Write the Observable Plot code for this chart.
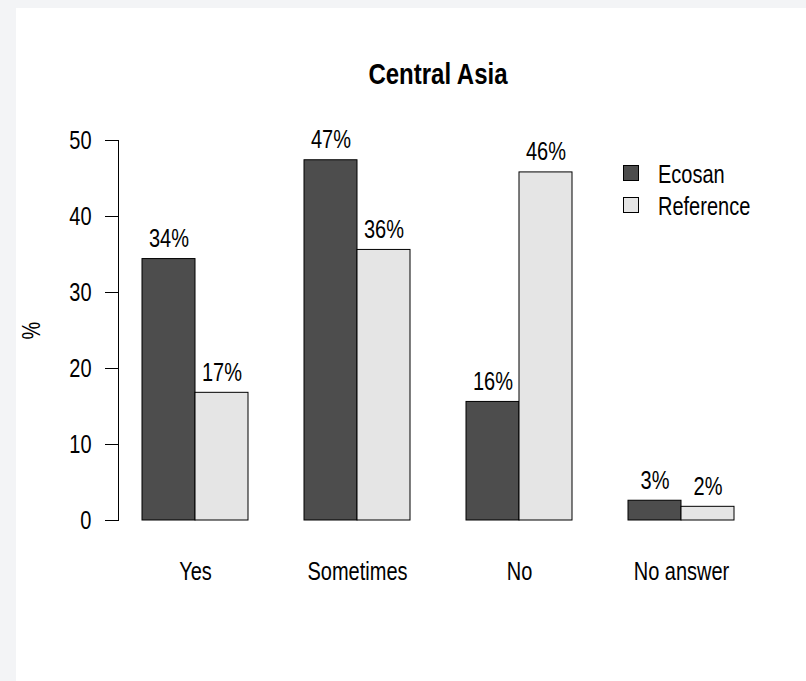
<!DOCTYPE html>
<html><head><meta charset="utf-8">
<script src="https://cdn.jsdelivr.net/npm/d3@7"></script>
<script src="https://cdn.jsdelivr.net/npm/@observablehq/plot@0.6"></script>
<style>
html,body{margin:0;padding:0;background:#f3f4f6;width:806px;height:681px;overflow:hidden;}
#panel{position:absolute;left:16px;top:8px;width:790px;height:673px;background:#fff;
  font-family:"Liberation Sans",Arial,Helvetica,sans-serif;color:#000;}
#title{position:absolute;left:27px;top:0;width:790px;text-align:center;font-weight:bold;font-size:30px;height:132px;line-height:132px;}
#title span{display:inline-block;transform:scaleX(0.8);transform-origin:center;}
#chart{position:absolute;left:0;top:100px;}
#legend{position:absolute;left:607px;top:150px;}
.item{display:flex;align-items:center;height:32px;font-size:25px;}
.sw{width:14px;height:14px;border:1px solid #000;margin-right:19px;box-sizing:content-box;position:relative;top:-1px;}
.lt{display:inline-block;transform:scaleX(0.8);transform-origin:left center;}
</style></head>
<body>
<div id="panel">
  <div id="title"><span>Central Asia</span></div>
  <div id="chart"></div>
  <div id="legend"></div>
</div>
<script>
const categories = ["Yes", "Sometimes", "No", "No answer"];
const series = ["Ecosan", "Reference"];
const ecosanValues = [34.4, 47.4, 15.6, 2.6];
const referenceValues = [16.8, 35.6, 45.8, 1.8];
const ecosanLabels = ["34%", "47%", "16%", "3%"];
const referenceLabels = ["17%", "36%", "46%", "2%"];
const yTicks = [0, 10, 20, 30, 40, 50];
const seriesColors = ["#4d4d4d", "#e5e5e5"];

const rows = [];
categories.forEach((c, i) => {
  rows.push({cat: c, series: series[0], value: ecosanValues[i], label: ecosanLabels[i]});
  rows.push({cat: c, series: series[1], value: referenceValues[i], label: referenceLabels[i]});
});

const font = '"Liberation Sans",Arial,Helvetica,sans-serif';
const chart = Plot.plot({
  width: 790, height: 573,
  marginTop: 32, marginBottom: 161, marginLeft: 101, marginRight: 47,
  style: {background: "transparent", fontFamily: font, fontSize: "25px", color: "#000", overflow: "visible"},
  fx: {domain: categories, paddingInner: 0.052, paddingOuter: 0, label: null, axis: null},
  x: {domain: series, paddingInner: 0, paddingOuter: 0.426, axis: null},
  y: {domain: [0, 50], axis: null},
  color: {domain: series, range: seriesColors},
  marks: [
    Plot.barY(rows, {fx: "cat", x: "series", y: "value", fill: "series", stroke: "#000", strokeWidth: 1}),
    Plot.text(rows, {fx: "cat", x: "series", y: "value", text: "label", lineAnchor: "bottom", dy: -12, fontSize: 25, fill: "#000"}),
    Plot.axisY({ticks: yTicks, tickSize: 13, tickPadding: 14, fontSize: 25, label: "%", labelAnchor: "center", labelOffset: 96, labelArrow: "none"}),
    Plot.axisFx({anchor: "bottom", tickSize: 0, tickPadding: 42, fontSize: 25, label: null}),
    Plot.frame({anchor: "left", facetAnchor: "left"})
  ]
});
// condense the glyphs horizontally (the reference uses a narrow face)
chart.querySelectorAll("text").forEach(t => {
  const tr = t.getAttribute("transform");
  if (tr) t.setAttribute("transform", tr + " scale(0.8,1)");
  else {
    const x = +(t.getAttribute("x") || 0);
    t.setAttribute("transform", `translate(${x},0) scale(0.8,1) translate(${-x},0)`);
  }
});
document.getElementById("chart").appendChild(chart);

const legend = document.getElementById("legend");
series.forEach((s, i) => {
  const item = document.createElement("div");
  item.className = "item";
  const sw = document.createElement("span");
  sw.className = "sw";
  sw.style.background = seriesColors[i];
  const t = document.createElement("span");
  t.className = "lt";
  t.textContent = s;
  item.appendChild(sw); item.appendChild(t);
  legend.appendChild(item);
});
</script>
</body></html>
